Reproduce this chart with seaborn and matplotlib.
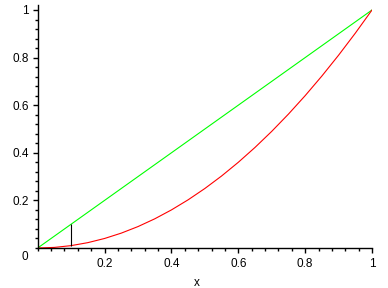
import matplotlib
matplotlib.use("Agg")
import matplotlib.pyplot as plt
import seaborn as sns
import numpy as np
from matplotlib.ticker import MultipleLocator, FixedLocator

sns.set_style("white")
plt.rcParams['font.family'] = ['Liberation Sans', 'DejaVu Sans']

# Data
line_x = [0.0, 1.0]
line_y = [0.0, 1.0]
curve_x = [0.0, 0.05, 0.1, 0.15, 0.2, 0.25, 0.3, 0.35, 0.4, 0.45, 0.5,
           0.55, 0.6, 0.65, 0.7, 0.75, 0.8, 0.85, 0.9, 0.95, 1.0]
curve_y = [0.0, 0.0025, 0.01, 0.0225, 0.04, 0.0625, 0.09, 0.1225, 0.16, 0.2025, 0.25,
           0.3025, 0.36, 0.4225, 0.49, 0.5625, 0.64, 0.7225, 0.81, 0.9025, 1.0]
seg_x = [0.1]
seg_lo = [0.01]
seg_hi = [0.1]
major_ticks = [0.2, 0.4, 0.6, 0.8, 1.0]
tick_labels = ["0.2", "0.4", "0.6", "0.8", "1"]

W, H = 388, 288
fig = plt.figure(figsize=(W / 100, H / 100), dpi=100)
x0, x1 = 37.7, 372.0
y0, ytop = 248.0, 5.0
ax = fig.add_axes([x0 / W, (H - y0) / H, (x1 - x0) / W, (y0 - ytop) / H])

lw = 0.8
sns.lineplot(x=line_x, y=line_y, color="#00ff00", linewidth=lw, ax=ax)
sns.lineplot(x=curve_x, y=curve_y, color="#ff0000", linewidth=lw, ax=ax)
ax.vlines(seg_x, seg_lo, seg_hi, color="black", linewidth=lw)

ax.set_xlim(0, 1)
ax.set_ylim(0, (y0 - ytop) / 238.0)

for s in ["top", "right"]:
    ax.spines[s].set_visible(False)
for s in ["left", "bottom"]:
    ax.spines[s].set_color("black")
    ax.spines[s].set_linewidth(1.0)

ax.xaxis.set_major_locator(FixedLocator(major_ticks))
ax.yaxis.set_major_locator(FixedLocator(major_ticks))
ax.set_xticklabels(tick_labels)
ax.set_yticklabels(tick_labels)
ax.xaxis.set_minor_locator(MultipleLocator(0.04))
ax.yaxis.set_minor_locator(MultipleLocator(0.04))
ax.tick_params(axis="both", which="major", direction="out", length=3.5, width=1,
               color="black", labelsize=8.5, labelcolor="black", pad=2.7,
               bottom=True, left=True)
ax.tick_params(axis="both", which="minor", direction="out", length=2, width=1,
               color="black", bottom=True, left=True)
ax.tick_params(axis="x", which="major", pad=3.5)

fig.text(24.5 / W, 1 - 257 / H, "0", ha="center", va="center",
         fontsize=8.5, color="black")
fig.text(197 / W, 1 - 282.5 / H, "x", ha="center", va="center", fontsize=8.5, color="black")

fig.savefig("out.png", dpi=100, facecolor="white")
